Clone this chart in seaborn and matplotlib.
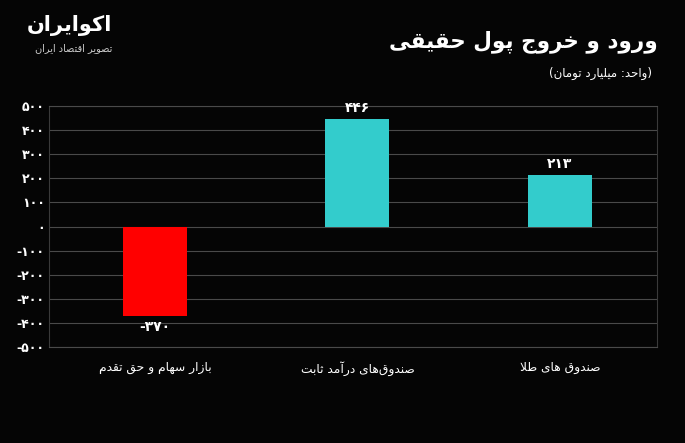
import matplotlib
matplotlib.use("Agg")
import matplotlib.pyplot as plt
import seaborn as sns
import pandas as pd
from matplotlib.ticker import FuncFormatter

# ---------------- data ----------------
categories = ["بازار سهام و حق تقدم", "صندوق‌های درآمد ثابت", "صندوق های طلا"]
values = [-370, 446, 213]
bar_colors = ["#FF0000", "#33CCCC", "#33CCCC"]
title_text = "ورود و خروج پول حقیقی"
subtitle_text = "(واحد: میلیارد تومان)"
logo_text = "اکوایران"
logo_sub = "تصویر اقتصاد ایران"
y_ticks = [-500, -400, -300, -200, -100, 0, 100, 200, 300, 400, 500]

# ---------------- minimal Persian shaping ----------------
FORMS = {
    "ا": ("\uFE8D", "\uFE8E", None, None),
    "آ": ("\uFE81", "\uFE82", None, None),
    "ب": ("\uFE8F", "\uFE90", "\uFE91", "\uFE92"),
    "پ": ("\uFB56", "\uFB57", "\uFB58", "\uFB59"),
    "ت": ("\uFE95", "\uFE96", "\uFE97", "\uFE98"),
    "ث": ("\uFE99", "\uFE9A", "\uFE9B", "\uFE9C"),
    "ج": ("\uFE9D", "\uFE9E", "\uFE9F", "\uFEA0"),
    "ح": ("\uFEA1", "\uFEA2", "\uFEA3", "\uFEA4"),
    "خ": ("\uFEA5", "\uFEA6", "\uFEA7", "\uFEA8"),
    "د": ("\uFEA9", "\uFEAA", None, None),
    "ذ": ("\uFEAB", "\uFEAC", None, None),
    "ر": ("\uFEAD", "\uFEAE", None, None),
    "ز": ("\uFEAF", "\uFEB0", None, None),
    "س": ("\uFEB1", "\uFEB2", "\uFEB3", "\uFEB4"),
    "ش": ("\uFEB5", "\uFEB6", "\uFEB7", "\uFEB8"),
    "ص": ("\uFEB9", "\uFEBA", "\uFEBB", "\uFEBC"),
    "ط": ("\uFEC1", "\uFEC2", "\uFEC3", "\uFEC4"),
    "ق": ("\uFED5", "\uFED6", "\uFED7", "\uFED8"),
    "ک": ("\uFB8E", "\uFB8F", "\uFB90", "\uFB91"),
    "ل": ("\uFEDD", "\uFEDE", "\uFEDF", "\uFEE0"),
    "م": ("\uFEE1", "\uFEE2", "\uFEE3", "\uFEE4"),
    "ن": ("\uFEE5", "\uFEE6", "\uFEE7", "\uFEE8"),
    "ه": ("\uFEE9", "\uFEEA", "\uFEEB", "\uFEEC"),
    "و": ("\uFEED", "\uFEEE", None, None),
    "ی": ("\uFBFC", "\uFBFD", "\uFBFE", "\uFBFF"),
}
LAM_ALEF = {"ا": ("\uFEFB", "\uFEFC"), "آ": ("\uFEF5", "\uFEF6")}


def dual(c):
    return c in FORMS and FORMS[c][2] is not None


def joining(c):
    return c in FORMS


def shape(text):
    out = []
    n = len(text)
    i = 0
    while i < n:
        c = text[i]
        prev = text[i - 1] if i > 0 else ""
        if c == "\u200c":
            i += 1
            continue
        if c not in FORMS:
            out.append(c)
            i += 1
            continue
        cp = dual(prev)
        if c == "ل" and i + 1 < n and text[i + 1] in LAM_ALEF:
            out.append(LAM_ALEF[text[i + 1]][1 if cp else 0])
            i += 2
            continue
        nxt = text[i + 1] if i + 1 < n else ""
        cn = dual(c) and joining(nxt)
        f = FORMS[c]
        if cp and cn:
            g = f[3]
        elif cp:
            g = f[1]
        elif cn:
            g = f[2]
        else:
            g = f[0]
        out.append(g)
        i += 1
    vis = "".join(reversed(out))
    return vis.translate(str.maketrans("()", ")("))


FA_DIGITS = str.maketrans("0123456789", "۰۱۲۳۴۵۶۷۸۹")


def fa_num(v):
    s = str(abs(int(round(v)))).translate(FA_DIGITS)
    return ("-" + s) if v < 0 else s


# ---------------- plot ----------------
sns.set_theme(style="dark")
plt.rcParams["font.family"] = ["DejaVu Sans"]

BG = "#050505"
GRID = "#4a4a4a"
fig = plt.figure(figsize=(6.85, 4.43), dpi=100, facecolor=BG)
ax = fig.add_axes([0.0715, 0.2167, 0.8876, 0.5440])
ax.set_facecolor(BG)

df = pd.DataFrame({"cat": categories, "val": values})
sns.barplot(data=df, x="cat", y="val", hue="cat", order=categories,
            hue_order=categories, palette=dict(zip(categories, bar_colors)),
            width=0.316, saturation=1, legend=False, ax=ax, zorder=3,
            edgecolor="none", linewidth=0)

ax.set_xlim(-0.523, 2.479)
ax.set_ylim(-500, 500)
ax.set_yticks(y_ticks)
ax.yaxis.set_major_formatter(FuncFormatter(lambda v, p: fa_num(v)))
ax.set_xticks(range(len(categories)))
ax.set_xticklabels([shape(c) for c in categories], color="white", fontsize=8.8)
ax.tick_params(axis="x", length=0, pad=10)
ax.tick_params(axis="y", length=0, pad=3, labelsize=9, colors="white")
for lab in ax.get_yticklabels():
    lab.set_fontweight("bold")
ax.set_xlabel("")
ax.set_ylabel("")

ax.grid(axis="y", color=GRID, linewidth=0.8, zorder=0)
ax.grid(axis="x", visible=False)
for side in ["left", "right"]:
    ax.spines[side].set_visible(True)
    ax.spines[side].set_color("#3a3a3a")
    ax.spines[side].set_linewidth(0.8)
for side in ["top", "bottom"]:
    ax.spines[side].set_visible(True)
    ax.spines[side].set_color(GRID)
    ax.spines[side].set_linewidth(0.8)

for cont in ax.containers:
    labels = [fa_num(b.get_height()) for b in cont]
    ax.bar_label(cont, labels=labels, padding=3, color="white",
                 fontsize=10, fontweight="bold")

fig.text(658 / 685, 1 - 42 / 443, shape(title_text), ha="right", va="center",
         color="white", fontsize=15.5, fontweight="bold")
fig.text(652 / 685, 1 - 73 / 443, shape(subtitle_text), ha="right", va="center",
         color="white", fontsize=8.5)

fig.text(112 / 685, 1 - 26 / 443, shape(logo_text), ha="right", va="center",
         color="white", fontsize=15, fontweight="bold")
fig.text(112 / 685, 1 - 48 / 443, shape(logo_sub), ha="right", va="center",
         color="#cccccc", fontsize=7)

fig.savefig("out.png", dpi=100, facecolor=BG)
